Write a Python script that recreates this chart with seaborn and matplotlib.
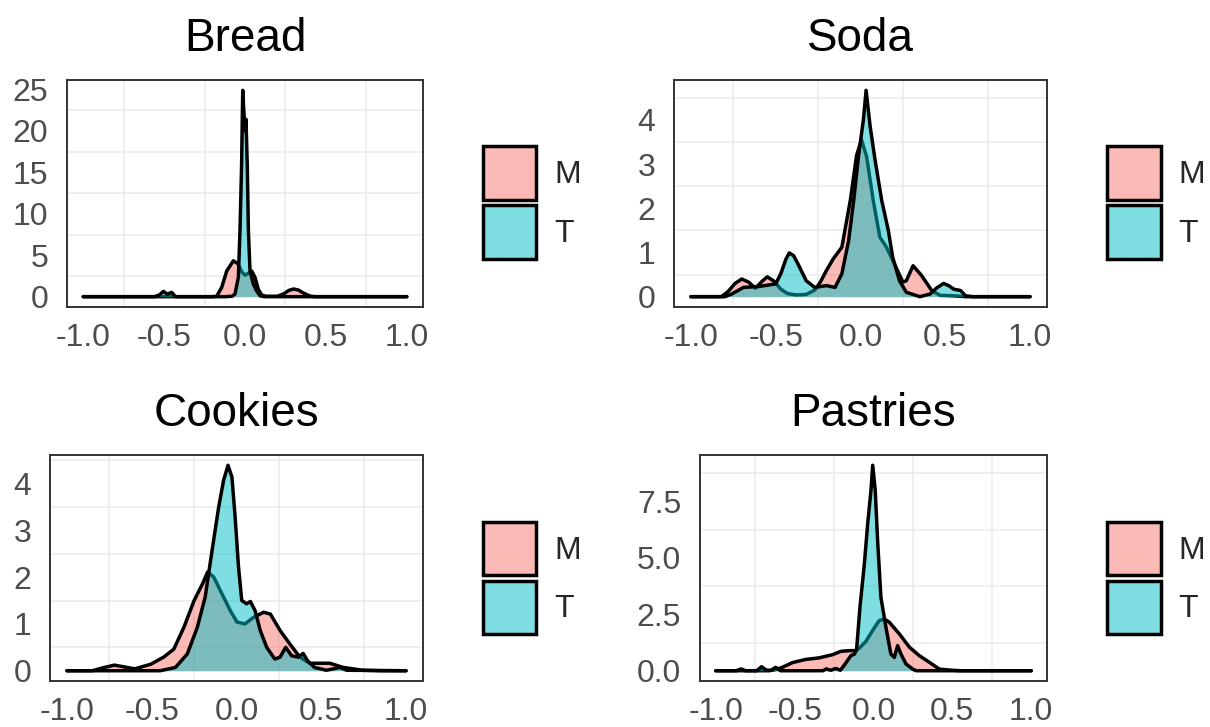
import numpy as np
import pandas as pd
import matplotlib
matplotlib.use("Agg")
import matplotlib.pyplot as plt
from matplotlib.patches import Patch
from matplotlib.ticker import FormatStrFormatter, FixedLocator
import seaborn as sns

# ---------------- data (density curves) ----------------
panels = ["Bread", "Soda", "Cookies", "Pastries"]
groups = ["M", "T"]

bread_m_x = [-1.0, -0.2, -0.175, -0.144, -0.113, -0.072, -0.045, -0.02, 0.0, 0.02, 0.041, 0.062,
             0.082, 0.103, 0.13, 0.2, 0.24, 0.27, 0.30, 0.33, 0.36, 0.40, 0.43, 1.0]
bread_m_y = [0, 0, 0.05, 1.12, 3.1, 4.33, 4.0, 3.0, 2.6, 2.8, 3.1, 2.33,
             0.9, 0.2, 0.05, 0.05, 0.35, 0.75, 0.93, 0.8, 0.45, 0.08, 0, 0]
bread_t_x = [-1.0, -0.56, -0.53, -0.504, -0.48, -0.453, -0.43, -0.12, -0.08, -0.062, -0.041, -0.031,
             -0.021, -0.014, -0.006, 0.0, 0.006, 0.014, 0.021, 0.031, 0.052, 0.072, 0.093, 0.12, 1.0]
bread_t_y = [0, 0, 0.2, 0.64, 0.3, 0.52, 0, 0, 0.05, 0.32, 2.33, 7.95,
             15.9, 24.9, 22.0, 20.0, 21.4, 15.9, 7.95, 3.1, 1.5, 0.7, 0.1, 0, 0]

soda_m_x = [-1.0, -0.82, -0.78, -0.74, -0.70, -0.66, -0.62, -0.58, -0.55, -0.51, -0.47, -0.43,
            -0.38, -0.32, -0.27, -0.237, -0.2, -0.16, -0.11, -0.06, -0.023, 0.006, 0.036, 0.075,
            0.114, 0.153, 0.20, 0.25, 0.27, 0.31, 0.36, 0.42, 0.47, 0.55, 0.62, 1.0]
soda_m_y = [0, 0, 0.12, 0.3, 0.40, 0.33, 0.19, 0.35, 0.45, 0.35, 0.17, 0.07,
            0.04, 0.05, 0.15, 0.33, 0.6, 0.86, 1.12, 2.18, 3.2, 3.55, 3.17, 2.18,
            1.35, 1.12, 0.74, 0.33, 0.36, 0.70, 0.48, 0.14, 0.03, 0.02, 0, 0]
soda_t_x = [-1.0, -0.80, -0.76, -0.69, -0.6, -0.5, -0.47, -0.44, -0.42, -0.395, -0.37, -0.32,
            -0.27, -0.2, -0.15, -0.11, -0.07, -0.04, -0.012, 0.017, 0.033, 0.057, 0.086, 0.125,
            0.164, 0.19, 0.23, 0.27, 0.35, 0.41, 0.45, 0.49, 0.52, 0.55, 0.59, 0.62, 0.66, 1.0]
soda_t_y = [0, 0, 0.06, 0.21, 0.23, 0.29, 0.52, 0.85, 0.99, 0.93, 0.75, 0.36,
            0.21, 0.25, 0.21, 0.52, 1.27, 2.18, 3.17, 4.0, 4.67, 3.85, 3.09, 2.18,
            1.5, 0.89, 0.36, 0.10, 0.0, 0.06, 0.2, 0.30, 0.25, 0.17, 0.14, 0.02, 0, 0]

cookies_m_x = [-1.0, -0.85, -0.78, -0.72, -0.66, -0.60, -0.505, -0.43, -0.37, -0.31, -0.25, -0.20,
               -0.17, -0.134, -0.095, -0.036, 0.003, 0.05, 0.10, 0.16, 0.20, 0.257, 0.315, 0.374,
               0.43, 0.47, 0.55, 0.63, 0.745, 0.85, 1.0]
cookies_m_y = [0, 0, 0.07, 0.12, 0.08, 0.04, 0.14, 0.29, 0.46, 0.93, 1.50, 1.86,
               2.11, 2.0, 1.71, 1.28, 1.04, 1.0, 1.14, 1.25, 1.21, 0.86, 0.57, 0.29,
               0.16, 0.16, 0.16, 0.07, 0.01, 0, 0]
cookies_t_x = [-1.0, -0.45, -0.36, -0.29, -0.231, -0.185, -0.144, -0.105, -0.076, -0.05, -0.027, -0.008,
               0.012, 0.031, 0.06, 0.082, 0.11, 0.14, 0.178, 0.226, 0.257, 0.29, 0.325, 0.364,
               0.393, 0.42, 0.46, 0.53, 0.57, 0.61, 0.65, 1.0]
cookies_t_y = [0, 0, 0.07, 0.36, 0.93, 1.57, 2.57, 3.5, 4.07, 4.39, 4.14, 3.28,
               2.21, 1.5, 1.43, 1.48, 1.28, 0.86, 0.5, 0.25, 0.29, 0.5, 0.32, 0.29,
               0.37, 0.21, 0.07, 0.01, 0.04, 0.07, 0.01, 0]

pastries_m_x = [-1.0, -0.66, -0.62, -0.578, -0.514, -0.43, -0.345, -0.26, -0.206, -0.153, -0.11, -0.09,
                -0.048, -0.006, 0.036, 0.068, 0.1, 0.164, 0.228, 0.29, 0.355, 0.418, 0.5, 0.55, 1.0]
pastries_m_y = [0, 0, 0.05, 0.15, 0.36, 0.5, 0.57, 0.71, 0.86, 0.89, 0.89, 1.0,
                1.3, 1.78, 2.22, 2.29, 2.15, 1.63, 1.04, 0.67, 0.37, 0.07, 0.02, 0, 0]
pastries_t_x = [-1.0, -0.87, -0.84, -0.81, -0.74, -0.71, -0.68, -0.65, -0.62, -0.59, -0.32, -0.3,
                -0.27, -0.24, -0.21, -0.18, -0.143, -0.12, -0.107, -0.086, -0.058, -0.037, -0.016, -0.005,
                0.011, 0.026, 0.047, 0.079, 0.11, 0.132, 0.153, 0.174, 0.206, 0.249, 0.27, 1.0]
pastries_t_y = [0, 0, 0.08, 0, 0, 0.18, 0.03, 0.02, 0.15, 0, 0, 0.08,
                0.02, 0.1, 0.02, 0.3, 0.67, 0.74, 0.96, 2.8, 4.73, 6.5, 7.99, 9.1,
                7.99, 5.77, 3.25, 1.92, 0.74, 0.59, 1.11, 0.74, 0.30, 0.07, 0, 0]

x_ticks = [-1.0, -0.5, 0.0, 0.5, 1.0]
y_ticks = {
    "Bread": [0, 5, 10, 15, 20, 25],
    "Soda": [0, 1, 2, 3, 4],
    "Cookies": [0, 1, 2, 3, 4],
    "Pastries": [0.0, 2.5, 5.0, 7.5],
}
y_fmt = {"Bread": "%d", "Soda": "%d", "Cookies": "%d", "Pastries": "%.1f"}

curves = {
    "Bread": {"M": (bread_m_x, bread_m_y), "T": (bread_t_x, bread_t_y)},
    "Soda": {"M": (soda_m_x, soda_m_y), "T": (soda_t_x, soda_t_y)},
    "Cookies": {"M": (cookies_m_x, cookies_m_y), "T": (cookies_t_x, cookies_t_y)},
    "Pastries": {"M": (pastries_m_x, pastries_m_y), "T": (pastries_t_x, pastries_t_y)},
}

fill_colors = {"M": "#F8766D", "T": "#00BFC4"}

# ---------------- style ----------------
sns.set_theme(style="white")
plt.rcParams["font.family"] = ["Liberation Sans", "DejaVu Sans"]
plt.rcParams["axes.unicode_minus"] = False

W, H = 1210, 727
fig = plt.figure(figsize=(W / 100, H / 100), dpi=100)

# axes boxes in pixels: left, top, right, bottom
boxes = {
    "Bread": (67, 80, 423, 307),
    "Soda": (674, 80, 1047, 307),
    "Cookies": (50, 455, 423, 681),
    "Pastries": (700, 455, 1047, 681),
}
legend_pos = {
    "Bread": (482.5, 202.5),
    "Soda": (1107, 202.5),
    "Cookies": (482.5, 578),
    "Pastries": (1107, 578),
}

LW = 2.5
TICK_FS = 23
tick_color = "#4D4D4D"

for name in panels:
    l, t, r, b = boxes[name]
    ax = fig.add_axes([l / W, 1 - b / H, (r - l) / W, (b - t) / H])
    ax.set_axisbelow(True)

    z = 1
    for g in groups:
        xs, ys = curves[name][g]
        df = pd.DataFrame({"x": xs, "density": ys})
        ax.fill_between(df["x"], df["density"], 0, color=fill_colors[g], alpha=0.5,
                        linewidth=0, zorder=z)
        sns.lineplot(data=df, x="x", y="density", ax=ax, color="black", linewidth=LW,
                     estimator=None, sort=False, zorder=z + 1,
                     solid_joinstyle="round", solid_capstyle="round")
        z += 2

    ymax = max(max(curves[name][g][1]) for g in groups)
    ax.set_xlim(-1.1, 1.1)
    ax.set_ylim(-0.05 * ymax, 1.05 * ymax)

    ax.set_xticks(x_ticks)
    ax.xaxis.set_major_formatter(FormatStrFormatter("%.1f"))
    ax.set_yticks(y_ticks[name])
    ax.yaxis.set_major_formatter(FormatStrFormatter(y_fmt[name]))
    xt = np.array(x_ticks)
    ax.xaxis.set_minor_locator(FixedLocator(list((xt[:-1] + xt[1:]) / 2)))
    yt = np.array(y_ticks[name], dtype=float)
    step = yt[1] - yt[0]
    ax.yaxis.set_minor_locator(FixedLocator(list(yt + step / 2)))

    ax.grid(False, which="major")
    ax.grid(True, which="minor", color="#EBEBEB", linewidth=1.1)
    ax.tick_params(which="both", length=0)
    ax.tick_params(axis="y", which="major", labelsize=TICK_FS, labelcolor=tick_color, pad=13.5)
    ax.tick_params(axis="x", which="major", labelsize=TICK_FS, labelcolor=tick_color, pad=11.5)

    ax.set_xlabel("")
    ax.set_ylabel("")
    for sp in ax.spines.values():
        sp.set_visible(True)
        sp.set_color("#333333")
        sp.set_linewidth(1.4)
        sp.set_zorder(10)

    ax.set_title(name, fontsize=33, color="black", pad=21)

    handles = []
    for g in groups:
        rgba = matplotlib.colors.to_rgba(fill_colors[g], 0.5)
        handles.append(Patch(facecolor=rgba, edgecolor="black", linewidth=LW, label=g))
    lx, ly = legend_pos[name]
    ax.legend(handles=handles, loc="center left", bbox_to_anchor=(lx / W, 1 - ly / H),
              bbox_transform=fig.transFigure, frameon=False, fontsize=TICK_FS,
              handlelength=1.69, handleheight=2.2, labelspacing=0.17,
              handletextpad=0.55, borderpad=0, borderaxespad=0)

fig.savefig("out.png", dpi=100, facecolor="white")
